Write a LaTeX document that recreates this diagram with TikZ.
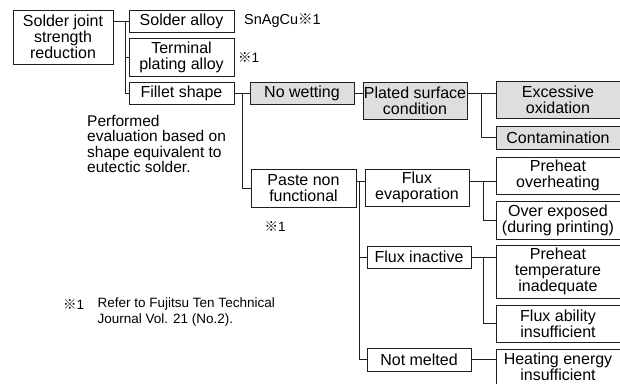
\documentclass[tikz,border=0pt]{standalone}
\usepackage{fontspec}
\setmainfont{Liberation Sans}
\newfontfamily\cjk{Noto Sans CJK JP}
\newcommand\refmk{{\cjk ※}}
\definecolor{boxgray}{HTML}{DEDEDE}
\definecolor{linec}{HTML}{1E1E1E}
\begin{document}
\begin{tikzpicture}[x=1pt,y=-1pt,
  box/.style={draw=linec,line width=0.9pt,inner sep=0pt,align=center,
    font=\fontsize{16}{16}\selectfont},
  gbox/.style={box,fill=boxgray},
  conn/.style={draw=linec,line width=0.9pt},
  note/.style={inner sep=0pt,font=\fontsize{13.5}{16}\selectfont}]
\useasboundingbox (0,0) rectangle (620,383);
\clip (0,0) rectangle (620,383);
% column 1
\node[box,minimum width=100pt,minimum height=54pt] (sj) at (63,37) {Solder joint\\strength\\reduction};
% column 2
\node[box,minimum width=105pt,minimum height=22pt] (sa) at (181.5,21) {Solder alloy};
\node[box,minimum width=105pt,minimum height=38pt] (tp) at (181.5,57) {Terminal\\plating alloy};
\node[box,minimum width=105pt,minimum height=22pt] (fs) at (181.5,93) {Fillet shape};
% column 3
\node[gbox,minimum width=104pt,minimum height=22pt] (nw) at (302,93) {No wetting};
\node[box,minimum width=105pt,minimum height=38pt] (pn) at (303.5,188) {Paste non\\functional};
% column 4
\node[gbox,minimum width=104pt,minimum height=37pt] (ps) at (415,100.5) {Plated surface\\condition};
\node[box,minimum width=104pt,minimum height=37pt] (fe) at (417,187.5) {Flux\\evaporation};
\node[box,minimum width=104pt,minimum height=22pt] (fi) at (419,257) {Flux inactive};
\node[box,minimum width=104pt,minimum height=23pt] (nm) at (419,359.5) {Not melted};
% column 5
\node[gbox,minimum width=124pt,minimum height=37pt] (eo) at (558,99.5) {Excessive\\oxidation};
\node[gbox,minimum width=124pt,minimum height=23pt] (ct) at (558,137.5) {Contamination};
\node[box,minimum width=124pt,minimum height=37pt] (po) at (558,175.5) {Preheat\\overheating};
\node[box,minimum width=124pt,minimum height=38pt] (oe) at (558,220) {Over exposed\\(during printing)};
\node[box,minimum width=124pt,minimum height=53pt] (pt) at (558,271.5) {Preheat\\temperature\\inadequate};
\node[box,minimum width=124pt,minimum height=37pt] (fa) at (558,323.5) {Flux ability\\insufficient};
\node[box,minimum width=124pt,minimum height=36pt] (he) at (558,367) {Heating energy\\insufficient};
% junction coordinates
\coordinate (j1) at (125,0);
\coordinate (j2) at (242,0);
\coordinate (j3) at (481,0);
\coordinate (j4) at (359,0);
\coordinate (j5) at (483,0);
\coordinate (r4) at (0,181);
\coordinate (r9) at (0,359);
% connectors
\draw[conn] (sj.east |- sa.west) -- (sa.west);
\draw[conn] (j1 |- sa.west) |- (tp.west);
\draw[conn] (j1 |- sa.west) |- (fs.west);
\draw[conn] (fs.east) -- (nw.west);
\draw[conn] (j2 |- fs.east) |- (pn.west);
\draw[conn] (nw.east) -- (nw.east -| ps.west);
\draw[conn] (nw.east -| ps.east) -- (nw.east -| eo.west);
\draw[conn] (j3 |- nw.east) |- (ct.west);
\draw[conn] (pn.east |- r4) -- (fe.west |- r4);
\draw[conn] (j4 |- r4) |- (fi.west);
\draw[conn] (j4 |- r4) |- (nm.west);
\draw[conn] (fe.east |- r4) -- (po.west |- r4);
\draw[conn] (j5 |- r4) |- (oe.west);
\draw[conn] (fi.east) -- (fi.east -| pt.west);
\draw[conn] (j5 |- fi.east) |- (fa.west);
\draw[conn] (nm.east |- r9) -- (he.west |- r9);
% annotations
\node[inner sep=0pt,anchor=west,font=\fontsize{14.5}{16}\selectfont] (snag) at (244,21) {SnAgCu\refmk 1};
\node[note,anchor=west] (rm1) at (238,58) {\refmk 1};
\node[note] (rm2) at (275,226) {\refmk 1};
\node[inner sep=0pt,anchor=north west,align=left,font=\fontsize{15.5}{15.3}\selectfont] (perf) at (87,115)
  {Performed\\evaluation based on\\shape equivalent to\\eutectic solder.};
\node[note,anchor=west] (rm3) at (63,304) {\refmk 1};
\node[note,anchor=north west,align=left] (fn) at (97.5,298) {Refer to Fujitsu Ten Technical\\Journal Vol. 21 (No.2).};
\end{tikzpicture}
\end{document}
